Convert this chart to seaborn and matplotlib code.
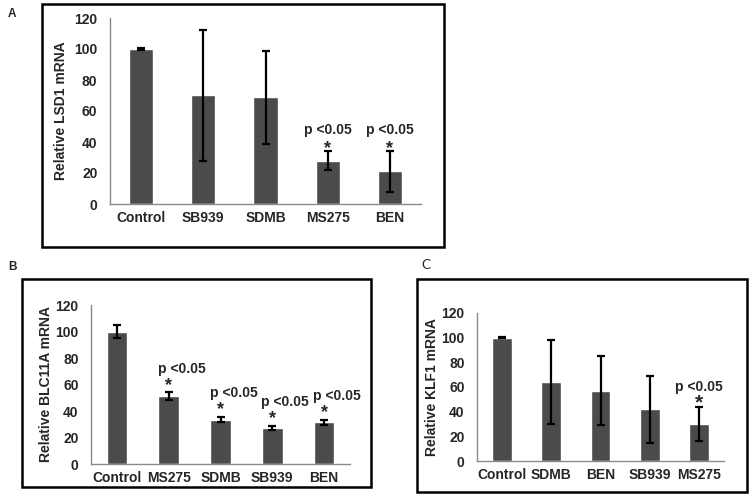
import matplotlib
matplotlib.use("Agg")
import matplotlib.pyplot as plt
import seaborn as sns
import pandas as pd
from matplotlib.patches import Rectangle

# ---- data ----
cats_a = ["Control", "SB939", "SDMB", "MS275", "BEN"]
vals_a = [100, 70, 69, 28, 21]
errs_a = [0.4, 42, 30, 6, 13]
sig_a = [False, False, False, True, True]

cats_b = ["Control", "MS275", "SDMB", "SB939", "BEN"]
vals_b = [100, 51, 33.5, 27.5, 31.5]
errs_b = [5, 3, 2, 1.5, 2]
sig_b = [False, True, True, True, True]

cats_c = ["Control", "SDMB", "BEN", "SB939", "MS275"]
vals_c = [100, 64, 57, 42, 30]
errs_c = [0.4, 34, 28, 27, 14]
sig_c = [False, False, False, False, True]

ylabel_a = "Relative LSD1 mRNA"
ylabel_b = "Relative BLC11A mRNA"
ylabel_c = "Relative KLF1 mRNA"
y_ticks = [0, 20, 40, 60, 80, 100, 120]
sig_text = "p <0.05"

sns.set_style("white")
plt.rcParams["font.family"] = ["Liberation Sans", "DejaVu Sans"]
plt.rcParams["font.weight"] = "bold"

BAR = "#4b4b4b"
SPINE = "#8a8a8a"

fig = plt.figure(figsize=(7.5, 4.98), dpi=100)
W, H = 750, 498


def axes_px(x0, x1, y0, y1):
    # x0,x1 left/right px; y0 = pixel row of value 0, y1 = pixel row of value 120
    return fig.add_axes([x0 / W, 1 - y0 / H, (x1 - x0) / W, (y0 - y1) / H])


def box_px(x0, y0, x1, y1):
    fig.patches.append(Rectangle((x0 / W, 1 - y1 / H), (x1 - x0) / W, (y1 - y0) / H,
                                 transform=fig.transFigure, fill=False,
                                 edgecolor="black", linewidth=1.8, zorder=0))


def panel(ax, cats, vals, errs, sig, ylabel, width, fs, star_fs, p_off, star_off,
          p_dx, label_x):
    df = pd.DataFrame({"cat": cats, "val": vals})
    sns.barplot(data=df, x="cat", y="val", color=BAR, width=width, ax=ax,
                errorbar=None, saturation=1, order=cats)
    ax.errorbar(range(len(cats)), vals, yerr=errs, fmt="none", ecolor="black",
                elinewidth=1.6, capsize=3, capthick=1.6, zorder=3)
    ax.set_xlim(-0.5, len(cats) - 0.5)
    ax.set_ylim(0, 120)
    ax.set_yticks(y_ticks)
    ax.set_yticklabels([str(t) for t in y_ticks], fontsize=fs, fontweight="bold")
    ax.set_xticks(range(len(cats)))
    ax.set_xticklabels(cats, fontsize=fs, fontweight="bold")
    ax.set_xticks([i - 0.5 for i in range(len(cats) + 1)], minor=True)
    ax.tick_params(axis="x", which="major", length=0, pad=5)
    ax.tick_params(axis="x", which="minor", length=4, color=SPINE, width=1, direction="out")
    ax.tick_params(axis="y", which="major", length=4, color=SPINE, width=1,
                   direction="out", pad=5)
    ax.set_xlabel("")
    ax.set_ylabel(ylabel, fontsize=fs, fontweight="bold")
    ax.yaxis.set_label_coords(label_x, 0.5)
    for s in ["top", "right"]:
        ax.spines[s].set_visible(False)
    for s in ["left", "bottom"]:
        ax.spines[s].set_color(SPINE)
        ax.spines[s].set_linewidth(1)
    ax.patch.set_alpha(0)
    for i, (v, e, s) in enumerate(zip(vals, errs, sig)):
        if s:
            top = v + e
            ax.text(i + p_dx, top + p_off, sig_text, ha="center", va="center",
                    fontsize=fs, fontweight="bold")
            ax.text(i, top + star_off, "*", ha="center", va="center",
                    fontsize=star_fs, fontweight="bold")


# boxes
box_px(42, 4, 444, 247)
box_px(22, 279, 371, 487)
box_px(417, 279, 747, 492)

ax_a = axes_px(110, 421, 204, 18)
panel(ax_a, cats_a, vals_a, errs_a, sig_a, ylabel_a, 0.39, 10, 13, 13.5, 1.7, 0.0, -0.135)

ax_b = axes_px(91, 350, 464, 305)
panel(ax_b, cats_b, vals_b, errs_b, sig_b, ylabel_b, 0.40, 10, 13, 18, 5.5, 0.25, -0.147)

ax_c = axes_px(477, 724, 461, 313)
panel(ax_c, cats_c, vals_c, errs_c, sig_c, ylabel_c, 0.40, 10, 15, 16, 3.0, 0.0, -0.154)

fig.text(8 / W, 1 - 14 / H, "A", fontsize=8.5, fontweight="bold", va="center", ha="left")
fig.text(8 / W, 1 - 267 / H, "B", fontsize=8.5, fontweight="bold", va="center", ha="left")
fig.text(421 / W, 1 - 265 / H, "C", fontsize=10, fontweight="normal", va="center",
         ha="left", family=["Lato", "DejaVu Sans"])

fig.savefig("out.png", dpi=100)
